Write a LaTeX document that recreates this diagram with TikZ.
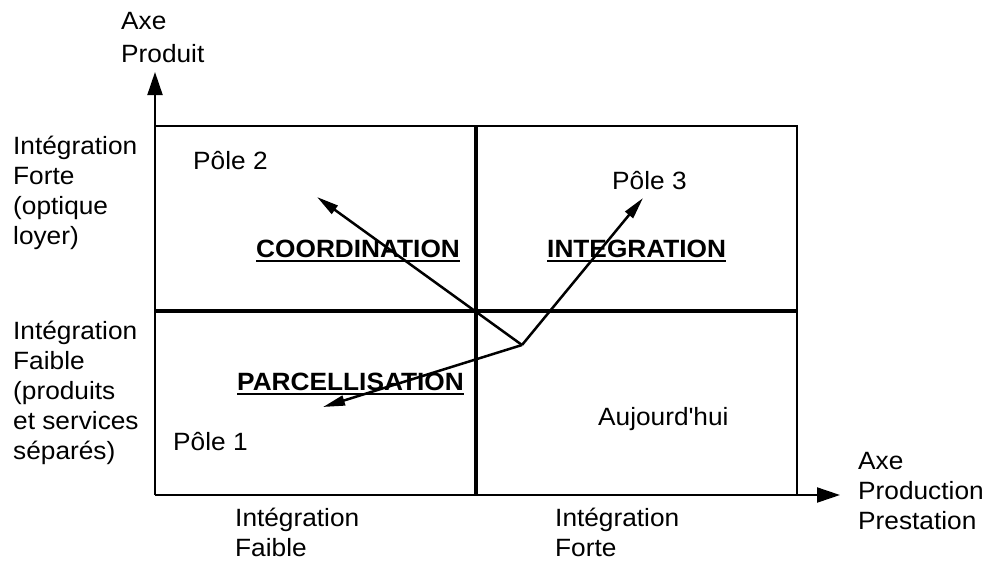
\documentclass[tikz,border=0pt]{standalone}
\usepackage{fontspec}
\setmainfont{Liberation Sans}[FakeStretch=1.05]
\usetikzlibrary{arrows.meta}
\begin{document}
\begin{tikzpicture}[x=1pt,y=-1pt,
  lbl/.style={inner sep=0pt, anchor=base west, align=left, font=\fontsize{25}{30}\selectfont},
  ttl/.style={inner sep=0pt, anchor=base west, font=\fontsize{25}{30}\selectfont\bfseries},
  frame/.style={line width=2pt},
  mid/.style={line width=3.5pt},
  axis/.style={line width=2pt, -{Triangle[length=23pt,width=15pt]}},
  move/.style={line width=2.5pt, -{Triangle[length=22pt,width=10pt]}},
  uline/.style={line width=1.8pt}]
\useasboundingbox (0,0) rectangle (992,560);
% key points
\coordinate (O) at (155,495);
\coordinate (Ytip) at (155,72);
\coordinate (Xtip) at (840,495);
\coordinate (TL) at (155,126);
\coordinate (TR) at (797,126);
\coordinate (BR) at (797,495);
\coordinate (ML) at (155,311);
\coordinate (MR) at (797,311);
\coordinate (MT) at (476,126);
\coordinate (MB) at (476,495);
\coordinate (P) at (522,345);
\coordinate (T1) at (323,407);
\coordinate (T2) at (317,197);
\coordinate (T3) at (643,198);
% frame and axes
\draw[frame] (TL) -- (TR) -- (BR);
\draw[axis] (O) -- (Ytip);
\draw[axis] (O) -- (Xtip);
\draw[mid] (ML) -- (MR);
\draw[mid] (MT) -- (MB);
% labels (base anchor = baseline of the last line)
\node[lbl, font=\fontsize{25}{33}\selectfont] (axeprod) at (121,62) {Axe\\Produit};
\node[lbl] (forte) at (13,244) {Intégration\\Forte\\(optique\\loyer)};
\node[lbl] (faible) at (13,459) {Intégration\\Faible\\(produits\\et services\\séparés)};
\node[lbl] (bfaible) at (235,556) {Intégration\\Faible};
\node[lbl] (bforte) at (555,556) {Intégration\\Forte};
\node[lbl] (axeprest) at (858,529) {Axe\\Production\\Prestation};
\node[lbl] (p2) at (193,169) {Pôle 2};
\node[lbl] (p3) at (612,189) {Pôle 3};
\node[lbl] (p1) at (173,450) {Pôle 1};
\node[lbl] (auj) at (598,425) {Aujourd\textquotesingle hui};
\node[ttl] (coord) at (256,257) {COORDINATION};
\node[ttl] (integ) at (547,257) {INTEGRATION};
\node[ttl] (parc) at (237,390) {PARCELLISATION};
\foreach \n in {coord,integ,parc}
  \draw[uline] ([yshift=-4pt]\n.base west) -- ([yshift=-4pt]\n.base east);
% movements
\draw[move] (P) -- (T2);
\draw[move] (P) -- (T3);
\draw[move] (P) -- (T1);
\end{tikzpicture}
\end{document}
